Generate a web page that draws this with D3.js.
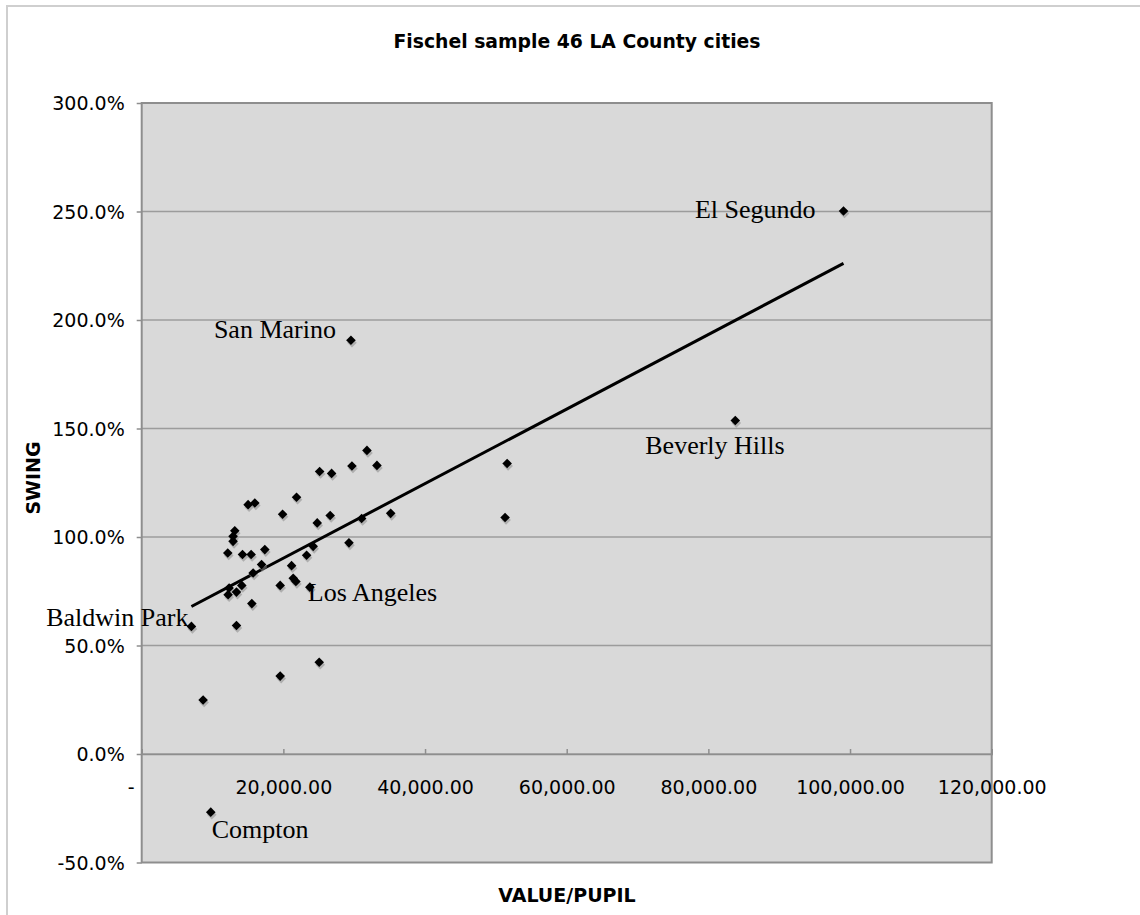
<!DOCTYPE html>
<html>
<head>
<meta charset="utf-8">
<script src="https://cdn.jsdelivr.net/npm/d3@7"></script>
<style>
  html, body { margin: 0; padding: 0; background: #fff; }
  svg { display: block; }
</style>
</head>
<body>
<svg id="chart" width="1140" height="915"></svg>
<script>
// ---- data (value per pupil, swing %) ----
const valuePerPupil = [
  99080, 83800, 29540, 9750, 7020, 23740,
  51590, 51300, 35150, 33210, 31800, 29680, 25120, 26810, 21860, 15020,
  15970, 19890, 24780, 26610, 31050, 13140, 12900, 12900, 12150, 14230,
  15450, 17380, 29260, 24210, 23280, 16920, 21160, 15730, 21390, 21770,
  12340, 13380, 14130, 12200, 19550, 15550, 13380, 25060, 19550, 8670
];
const swing = [
  250.2, 153.7, 190.7, -26.8, 58.8, 76.9,
  133.9, 109.0, 110.9, 133.0, 139.9, 132.7, 130.2, 129.3, 118.3, 114.9,
  115.7, 110.5, 106.5, 109.9, 108.5, 102.9, 100.3, 98.0, 92.6, 91.9,
  91.9, 94.2, 97.3, 95.7, 91.6, 87.3, 86.8, 83.4, 81.0, 79.5,
  76.5, 74.6, 77.7, 73.4, 77.7, 69.3, 59.2, 42.3, 35.9, 24.9
];
const labelNames = ["El Segundo", "Beverly Hills", "San Marino", "Compton", "Baldwin Park", "Los Angeles"];
const labelIndex = [0, 1, 2, 3, 4, 5];
const labelAnchor = ["end", "start", "end", "start", "end", "start"];
const labelDx = [-28, -90, -15, 1, -3, -2];
const labelDy = [7, 34, -2, 26, 0, 14];

const yTicks = [-50, 0, 50, 100, 150, 200, 250, 300];
const xTicks = [0, 20000, 40000, 60000, 80000, 100000, 120000];
const title = "Fischel sample 46 LA County cities";
const xTitle = "VALUE/PUPIL";
const yTitle = "SWING";

// ---- layout ----
const svg = d3.select("#chart");
const L = 141.7, R = 991.7, T = 103, B = 862.5;
const x = d3.scaleLinear().domain([0, 120000]).range([L, R]);
const y = d3.scaleLinear().domain([-50, 300]).range([B, T]);

// outer chart border (left + top)
svg.append("path")
  .attr("d", `M7,915 L7,6 L1140,6`)
  .attr("fill", "none").attr("stroke", "#cfcfcf").attr("stroke-width", 2);

// title
svg.append("text").attr("x", 577).attr("y", 48)
  .attr("text-anchor", "middle")
  .attr("font-family", "DejaVu Sans").attr("font-weight", "bold").attr("font-size", 18.8)
  .text(title);

// plot area
svg.append("rect").attr("x", L).attr("y", T).attr("width", R - L).attr("height", B - T)
  .attr("fill", "#d9d9d9");

// gridlines
svg.append("g").selectAll("line").data(yTicks.filter(d => d !== -50 && d !== 300)).join("line")
  .attr("x1", L).attr("x2", R)
  .attr("y1", d => y(d)).attr("y2", d => y(d))
  .attr("stroke", "#9c9c9c").attr("stroke-width", 1.5);

// plot border
svg.append("rect").attr("x", L).attr("y", T).attr("width", R - L).attr("height", B - T)
  .attr("fill", "none").attr("stroke", "#8e8e8e").attr("stroke-width", 2);

// y axis
const yAxis = d3.axisLeft(y).tickValues(yTicks).tickSize(5).tickPadding(12)
  .tickFormat(d => d.toFixed(1) + "%");
const gy = svg.append("g").attr("transform", `translate(${L},0)`).call(yAxis);
gy.select(".domain").remove();
gy.selectAll(".tick line").attr("stroke", "#8e8e8e").attr("stroke-width", 1.5);
gy.selectAll(".tick text").attr("font-family", "DejaVu Sans").attr("font-size", 19)
  .attr("fill", "#000").attr("dy", "0.36em");

// x axis at y = 0
const xAxis = d3.axisBottom(x).tickValues(xTicks).tickSize(-5).tickPadding(27)
  .tickFormat(d => d === 0 ? "-" : d3.format(",.2f")(d));
const gx = svg.append("g").attr("transform", `translate(0,${y(0)})`).call(xAxis);
gx.select(".domain").attr("stroke", "#8e8e8e").attr("stroke-width", 1.5);
gx.selectAll(".tick line").attr("stroke", "#8e8e8e").attr("stroke-width", 1.5);
gx.selectAll(".tick text").attr("font-family", "DejaVu Sans").attr("font-size", 19)
  .attr("fill", "#000");
gx.selectAll(".tick").filter(d => d === 0).select("text").attr("dx", -11);

// axis titles
svg.append("text").attr("x", 567).attr("y", 902).attr("text-anchor", "middle")
  .attr("font-family", "DejaVu Sans").attr("font-weight", "bold").attr("font-size", 19)
  .text(xTitle);
svg.append("text").attr("transform", "translate(40,478) rotate(-90)").attr("text-anchor", "middle")
  .attr("font-family", "DejaVu Sans").attr("font-weight", "bold").attr("font-size", 19)
  .text(yTitle);

// trendline (least squares)
const pts = valuePerPupil.map((v, i) => ({ v, s: swing[i] }));
const mx = d3.mean(pts, d => d.v), my = d3.mean(pts, d => d.s);
const slope = d3.sum(pts, d => (d.v - mx) * (d.s - my)) / d3.sum(pts, d => (d.v - mx) ** 2);
const icpt = my - slope * mx;
const [xmin, xmax] = d3.extent(valuePerPupil);
svg.append("line")
  .attr("x1", x(xmin)).attr("y1", y(icpt + slope * xmin))
  .attr("x2", x(xmax)).attr("y2", y(icpt + slope * xmax))
  .attr("stroke", "#000").attr("stroke-width", 3);

// markers
const diamond = d3.symbol().type(d3.symbolSquare).size(46);
svg.append("g").selectAll("path").data(pts).join("path")
  .attr("d", diamond)
  .attr("transform", d => `translate(${x(d.v) + 1},${y(d.s) + 2.5}) rotate(45)`)
  .attr("fill", "#8a8a8a").attr("opacity", 0.55);
svg.append("g").selectAll("path").data(pts).join("path")
  .attr("d", diamond)
  .attr("transform", d => `translate(${x(d.v)},${y(d.s)}) rotate(45)`)
  .attr("fill", "#000");

// labels
svg.append("g").selectAll("text").data(labelNames).join("text")
  .attr("x", (d, i) => x(valuePerPupil[labelIndex[i]]) + labelDx[i])
  .attr("y", (d, i) => y(swing[labelIndex[i]]) + labelDy[i])
  .attr("text-anchor", (d, i) => labelAnchor[i])
  .attr("font-family", "Liberation Serif").attr("font-size", 26)
  .text(d => d);
</script>
</body>
</html>
